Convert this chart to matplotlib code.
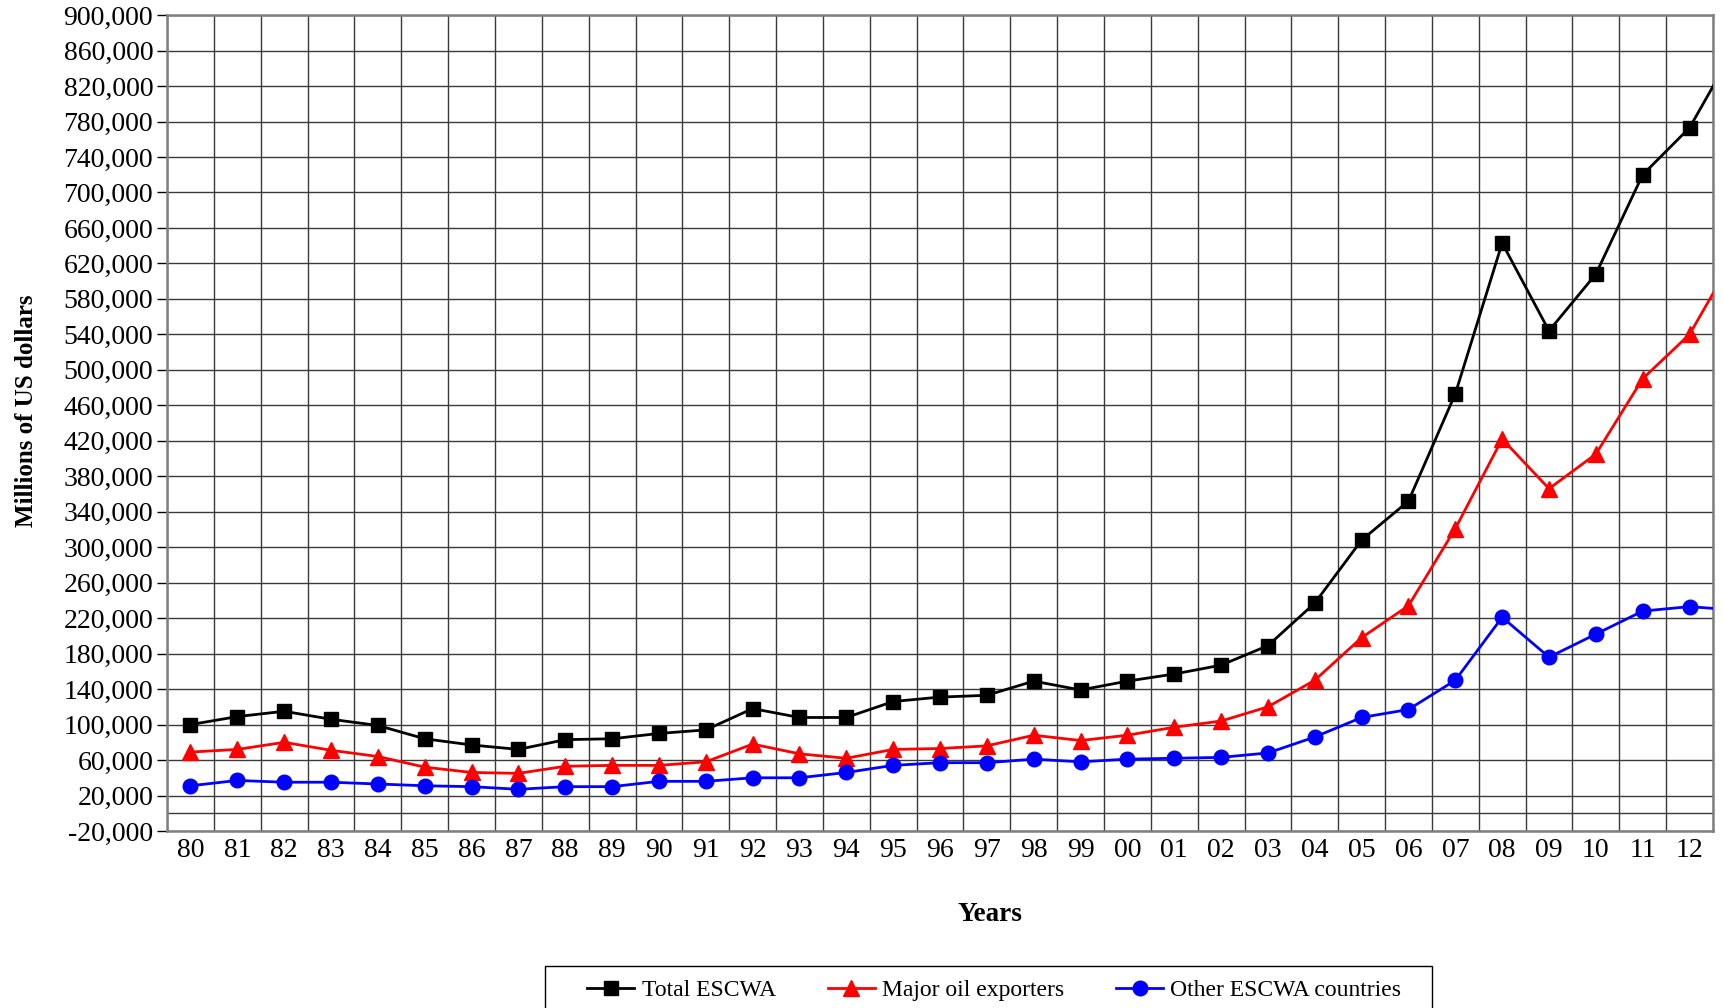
import matplotlib
matplotlib.use("Agg")
import matplotlib.pyplot as plt
from matplotlib.patches import Rectangle
from matplotlib.ticker import FuncFormatter

plt.rcParams["font.family"] = ["Liberation Serif", "DejaVu Serif"]

years = ["80", "81", "82", "83", "84", "85", "86", "87", "88", "89", "90",
         "91", "92", "93", "94", "95", "96", "97", "98", "99", "00", "01",
         "02", "03", "04", "05", "06", "07", "08", "09", "10", "11", "12", "13"]

total = [100000, 109000, 115000, 106000, 99000, 84000, 77000, 72000, 83000,
         84000, 90000, 94000, 118000, 108000, 108000, 126000, 131000, 133000,
         149000, 139000, 149000, 157000, 167000, 189000, 237000, 308000,
         352000, 473000, 643000, 544000, 608000, 720000, 773000, 866000]
major = [69000, 72000, 80000, 71000, 64000, 52000, 46000, 45000, 53000,
         54000, 54000, 58000, 78000, 67000, 62000, 72000, 73000, 76000,
         88000, 82000, 88000, 97000, 104000, 120000, 150000, 198000,
         234000, 321000, 422000, 366000, 405000, 490000, 540000, 632000]
other = [31000, 37000, 35000, 35000, 33000, 31000, 30000, 27000, 30000,
         30000, 36000, 36000, 40000, 40000, 46000, 54000, 57000, 57000,
         61000, 58000, 61000, 62000, 63000, 68000, 86000, 108000,
         117000, 150000, 221000, 176000, 202000, 228000, 233000, 229000]

fig = plt.figure(figsize=(17.24, 10.08), dpi=100)
ax = fig.add_axes([0.0969, 0.1756, 0.8967, 0.8094])

x = list(range(len(years)))
ax.plot(x, total, color="black", lw=2, marker="s", ms=10.5, label="Total ESCWA", zorder=5)
ax.plot(x, major, color="#ff0000", lw=2, marker="^", ms=11, label="Major oil exporters", zorder=5)
ax.plot(x, other, color="#0000ff", lw=2, marker="o", ms=10.5, label="Other ESCWA countries", zorder=5)

ax.set_xlim(-0.5, 32.5)
ax.set_ylim(-20000, 900000)
ax.set_yticks(list(range(-20000, 900001, 40000)))
ax.yaxis.set_major_formatter(FuncFormatter(lambda v, p: f"{int(v):,}"))
ax.set_xticks(x[:33])
ax.set_xticklabels(years[:33])
ax.set_xticks([i + 0.5 for i in range(-1, 33)], minor=True)

ax.grid(True, which="major", axis="y", color="#3a3a3a", lw=1)
ax.grid(True, which="minor", axis="x", color="#3a3a3a", lw=1)
ax.axhline(0, color="#3a3a3a", lw=1)
ax.set_axisbelow(True)

ax.tick_params(axis="y", direction="out", length=7, width=1, labelsize=20, pad=3)
ax.tick_params(axis="x", which="both", length=0, labelsize=20, pad=5)

for s in ax.spines.values():
    s.set_color("#808080")
    s.set_linewidth(1.8)

ax.set_ylabel("Millions of US dollars", fontsize=18, fontweight="bold", labelpad=18)
ax.yaxis.label.set_y(0.515)
fig.text(0.574, 0.093, "Years", fontsize=19.5, fontweight="bold", ha="center", va="center")

# legend box (runs off the bottom edge, like the original)
fig.patches.append(Rectangle((0.3163, -0.02), 0.5144, 0.062, transform=fig.transFigure,
                             fill=False, edgecolor="black", lw=1))
fig.legend(loc="center", bbox_to_anchor=(0.5767, 0.0177), ncol=3,
           fontsize=17, frameon=False, handlelength=2.0, handletextpad=0.3,
           columnspacing=2.2, borderpad=0, borderaxespad=0)

fig.savefig("out.png", dpi=100)
